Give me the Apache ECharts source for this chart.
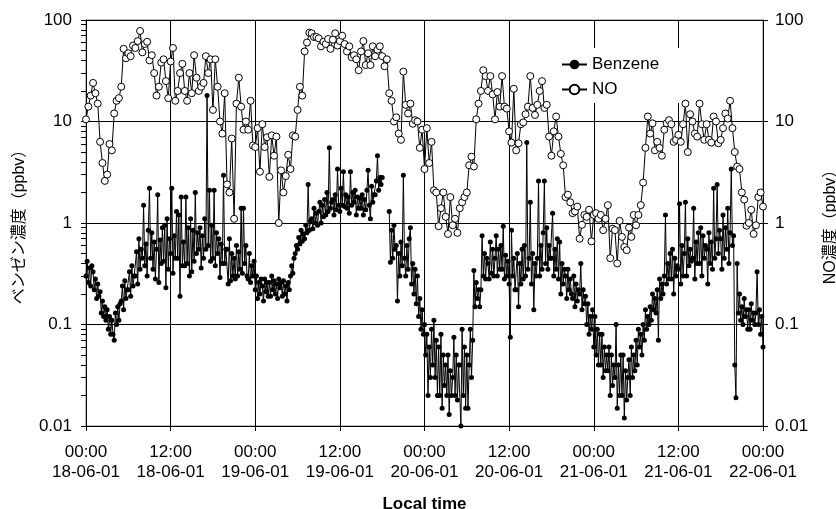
<!DOCTYPE html>
<html><head><meta charset="utf-8">
<script src="https://cdn.jsdelivr.net/npm/echarts@6/dist/echarts.min.js"></script>
<style>html,body{margin:0;padding:0;background:#fff}#c{width:836px;height:509px}</style>
</head><body><div id="c"></div>
<script>
// x tick labels (every 12 hours from 18-06-01 00:00)
const xTickLabels = [
  '00:00\n18-06-01','12:00\n18-06-01','00:00\n19-06-01','12:00\n19-06-01',
  '00:00\n20-06-01','12:00\n20-06-01','00:00\n21-06-01','12:00\n21-06-01','00:00\n22-06-01'
];
const seriesNames = ['Benzene', 'NO'];
const benzeneStepHours = 1 / 6;  // 10-min readings
const noStepHours = 1 / 3;       // 20-min readings

// Benzene (ppbv), one row per hour
const benzene = [
0.30,0.42,0.26,0.36,0.24,0.38,
0.33,0.22,0.28,0.18,0.25,0.19,
0.21,0.13,0.17,0.12,0.15,0.11,
0.14,0.09,0.12,0.08,0.11,0.08,
0.07,0.13,0.10,0.15,0.11,0.16,
0.17,0.24,0.14,0.27,0.18,0.22,
0.22,0.33,0.19,0.38,0.24,0.30,
0.30,0.52,0.25,0.70,0.35,0.55,
0.45,1.50,0.38,0.62,0.30,0.85,
2.20,0.45,0.80,0.35,0.65,0.28,
0.55,1.90,0.26,0.68,0.40,0.90,
0.42,0.95,0.23,1.10,0.35,0.70,
0.50,2.20,0.32,0.75,0.45,1.30,
0.45,1.20,0.19,1.80,0.38,0.65,
0.38,1.80,0.40,0.90,0.30,1.10,
0.33,0.85,0.42,2.00,0.50,0.80,
0.55,0.90,0.36,0.75,0.45,1.10,
0.55,18.0,0.60,2.10,0.42,0.95,
0.45,2.10,0.38,0.80,0.50,0.70,
0.29,0.62,0.40,2.95,0.40,0.55,
0.55,0.25,0.70,0.27,0.50,0.30,
0.45,0.28,0.60,0.30,0.52,0.35,
1.40,0.32,1.40,0.40,0.60,0.30,
0.28,0.50,0.26,0.38,0.30,0.42,
0.22,0.30,0.18,0.26,0.20,0.28,
0.24,0.17,0.28,0.21,0.26,0.19,
0.26,0.19,0.30,0.22,0.27,0.20,
0.25,0.18,0.28,0.23,0.26,0.19,
0.27,0.20,0.24,0.17,0.26,0.22,
0.30,0.38,0.32,0.45,0.50,0.60,
0.55,0.72,0.62,0.85,0.66,0.78,
0.70,0.95,0.80,2.40,0.85,1.05,
1.10,0.88,1.40,1.00,1.25,0.95,
1.30,1.60,1.00,1.50,1.15,1.70,
1.20,2.00,1.30,5.50,1.40,1.60,
1.70,1.20,1.90,1.35,3.40,1.50,
1.30,2.20,1.50,3.20,1.45,1.90,
1.40,1.80,1.25,3.20,1.50,2.00,
1.60,2.10,1.20,1.80,1.40,1.75,
1.40,1.90,1.20,1.70,1.35,2.10,
3.30,1.50,1.10,2.30,1.60,1.90,
1.90,2.60,4.60,2.10,2.80,2.40,
2.80,null,null,null,null,null,
1.30,0.41,0.85,0.45,0.95,0.55,
0.60,0.17,0.50,0.30,0.65,0.38,
2.95,0.45,0.30,0.60,0.35,0.70,
0.90,0.25,0.40,0.20,0.35,0.16,
0.30,0.12,0.18,0.09,0.14,0.08,
0.10,0.05,0.08,0.02,0.06,0.03,
0.09,0.04,0.11,0.03,0.07,0.02,
0.06,0.02,0.08,0.015,0.05,0.025,
0.04,0.02,0.05,0.013,0.035,0.02,
0.03,0.075,0.02,0.05,0.018,0.04,
0.04,0.01,0.09,0.02,0.06,0.015,
0.05,0.015,0.04,0.09,0.03,0.07,
0.34,0.15,0.26,0.18,0.22,0.15,
0.22,0.75,0.30,0.50,0.28,0.45,
0.40,0.28,0.65,0.32,0.55,0.30,
0.45,0.75,0.30,0.55,0.35,0.60,
0.35,0.93,0.28,0.48,0.30,0.42,
0.25,0.075,0.85,0.30,0.45,0.22,
0.22,0.50,0.15,0.40,0.25,0.55,
0.28,0.60,0.30,6.20,0.35,0.45,
1.60,0.25,0.50,0.14,0.40,0.30,
0.45,2.60,0.30,0.60,0.35,0.80,
2.60,0.40,0.90,0.35,0.60,0.45,
0.45,1.25,0.30,0.55,0.35,0.70,
0.28,0.65,0.20,0.40,0.25,0.35,
0.30,0.18,0.35,0.22,0.28,0.20,
0.18,0.30,0.15,0.25,0.17,0.22,
0.20,0.40,0.14,0.22,0.16,0.19,
0.10,0.16,0.08,0.12,0.09,0.14,
0.06,0.12,0.05,0.09,0.04,0.08,
0.04,0.08,0.03,0.06,0.035,0.05,
0.035,0.06,0.02,0.05,0.025,0.04,
0.03,0.10,0.015,0.04,0.02,0.05,
0.02,0.05,0.012,0.035,0.018,0.03,
0.045,0.02,0.06,0.03,0.05,0.035,
0.07,0.04,0.09,0.06,0.08,0.05,
0.10,0.07,0.14,0.09,0.12,0.10,
0.15,0.11,0.20,0.14,0.18,0.13,
0.22,0.07,0.28,0.18,0.25,0.20,
0.30,1.20,0.25,0.40,0.28,0.50,
0.28,0.55,0.20,0.45,0.30,0.38,
0.35,1.55,0.25,0.60,0.30,0.50,
1.60,0.30,0.70,0.38,0.55,0.42,
0.45,1.40,0.28,0.65,0.40,0.80,
0.40,0.90,0.30,0.75,0.45,0.60,
0.55,0.25,0.80,0.40,0.65,0.35,
2.20,0.45,0.70,2.40,0.50,0.85,
0.70,0.35,1.20,0.45,0.90,0.55,
1.40,0.40,0.80,3.40,0.60,0.75,
0.04,0.019,0.40,0.13,0.20,0.11,
0.15,0.10,0.18,0.12,0.14,0.09,
0.14,0.09,0.16,0.11,0.13,0.10,
0.13,0.33,0.10,0.14,0.08,0.12,
0.06
];

// NO (ppbv), one row per hour
const no = [
10.5,14,18,
24,19,15,
6.3,3.9,2.6,
3.0,6.0,5.2,
12,16,17,
22,52,42,
47,44,56,
53,62,78,
48,58,61,
40,45,30,
18,22,38,
41,25,17,
39,53,16,
20,30,37,
20,16,30,
19,45,27,
20,22,24,
44,30,41,
13,41,22,
10,7.6,19,
2.4,2.0,6.8,
1.1,15,27,
14,8.3,10,
8.3,16,5.8,
5.6,8.6,3.2,
9.4,5.6,7,
2.85,7.3,4.6,
7.1,1.0,3.3,
2.0,2.9,4.7,
3.4,7.3,7.1,
13,22,18,
49,60,75,
74,68,68,
66,55,61,
58,65,52,
64,74,56,
62,70,58,
49,55,43,
45,41,32,
49,62,36,
47,36,55,
44,51,55,
44,35,41,
19,16,10,
11,7.6,6.6,
31,14.6,12,
15,9.5,10.3,
10,5.5,8.3,
3.4,8.6,3.9,
6.3,2.1,2.0,
0.93,1.4,2.0,
1.15,0.78,1.8,
0.95,1.1,0.8,
1.4,1.6,1.8,
2.0,3.7,4.5,
3.6,10.5,15,
20,32,28,
20,28,18.5,
10.5,19.5,14,
28,14,13.4,
8,6.2,21,
5.2,6.1,9.4,
9.8,11.8,14,
28,13.6,11.6,
14.6,20,25,
13.6,14.6,7.1,
4.6,8,11.2,
7.1,4.8,3.7,
1.8,1.9,1.6,
1.25,1.3,1.45,
0.7,0.96,1.2,
1.15,1.35,0.66,
1.2,1.25,1.1,
1.2,0.85,1.1,
1.5,0.45,0.88,
0.85,0.4,1.05,
0.73,0.58,0.54,
0.9,0.73,1.2,
0.95,1.2,1.5,
2.5,5.5,11.2,
7.6,9.6,5.2,
6.3,5.5,4.6,
8.3,9.6,10.3,
9.4,6.3,6.6,
7.4,6.3,9.4,
15,5,11.8,
10,7.6,7.1,
15,9.4,6.6,
9.4,6.6,6.2,
11.2,10,6.1,
6.6,8.6,12,
10.7,16,8.6,
5,3.6,3.4,
2.0,1.7,0.94,
1.0,1.35,0.78,
0.95,1.8,2.0,
1.45
];

const toPairs = (arr, step) => arr.map((v, i) => [i * step, v == null ? '-' : v]);
const FONT = "'Liberation Sans', Arial, 'Noto Sans CJK JP', sans-serif";

const chart = echarts.init(document.getElementById('c'), null, {renderer: 'canvas'});
chart.setOption({
  animation: false,
  backgroundColor: '#fff',
  grid: {left: 86, right: 73, top: 20, bottom: 83, show: true, borderColor: '#808080', borderWidth: 1,
    containLabel: false, outerBoundsMode: 'none'},
  legend: {
    orient: 'vertical', left: 555, top: 48, padding: [8, 22, 5, 6], itemGap: 8,
    itemWidth: 25, itemHeight: 12, backgroundColor: '#fff', selectedMode: false,
    textStyle: {fontSize: 17, color: '#000', fontFamily: FONT},
    data: seriesNames
  },
  xAxis: {
    type: 'value', min: 0, max: 96, interval: 12,
    name: 'Local time', nameLocation: 'middle', nameGap: 70,
    nameTextStyle: {fontFamily: FONT, fontSize: 17, fontWeight: 'bold', color: '#000'},
    axisLine: {onZero: false, lineStyle: {color: '#000', width: 1}},
    axisTick: {show: true, length: 5, lineStyle: {color: '#000'}},
    axisLabel: {formatter: v => xTickLabels[Math.round(v / 12)], fontSize: 17, lineHeight: 20,
      color: '#000', margin: 16, fontFamily: FONT, showMinLabel: true, showMaxLabel: true},
    splitLine: {show: true, lineStyle: {color: '#000', width: 1}}
  },
  yAxis: [
    {
      type: 'log', logBase: 10, min: 0.01, max: 100, position: 'left',
      name: 'ベンゼン濃度（ppbv）', nameLocation: 'middle', nameRotate: 90, nameGap: 54,
      nameTextStyle: {fontFamily: FONT, fontSize: 16, color: '#000'},
      axisLine: {show: true, lineStyle: {color: '#000', width: 1}},
      axisTick: {show: true, length: 5, lineStyle: {color: '#000'}},
      minorTick: {show: true, splitNumber: 9, length: 5, lineStyle: {color: '#000'}},
      axisLabel: {fontSize: 17, color: '#000', margin: 14, fontFamily: FONT},
      splitLine: {show: true, lineStyle: {color: '#000', width: 1}}
    },
    {
      type: 'log', logBase: 10, min: 0.01, max: 100, position: 'right',
      name: 'NO濃度（ppbv）', nameLocation: 'middle', nameRotate: 90, nameGap: 60,
      nameTextStyle: {fontFamily: FONT, fontSize: 16, color: '#000'},
      axisLine: {show: true, lineStyle: {color: '#000', width: 1}},
      axisTick: {show: true, length: 5, lineStyle: {color: '#000'}},
      axisLabel: {fontSize: 17, color: '#000', margin: 12, fontFamily: FONT},
      splitLine: {show: false}
    }
  ],
  series: [
    {
      name: seriesNames[0], type: 'line', yAxisIndex: 0, data: toPairs(benzene, benzeneStepHours),
      symbol: 'circle', symbolSize: 5, showAllSymbol: true, connectNulls: false,
      itemStyle: {color: '#000'}, lineStyle: {color: '#000', width: 1}, z: 2
    },
    {
      name: seriesNames[1], type: 'line', yAxisIndex: 1, data: toPairs(no, noStepHours),
      symbol: 'circle', symbolSize: 7, showAllSymbol: true,
      itemStyle: {color: '#fff', borderColor: '#000', borderWidth: 1},
      lineStyle: {color: '#000', width: 1}, z: 3
    }
  ]
});
</script>
</body></html>
